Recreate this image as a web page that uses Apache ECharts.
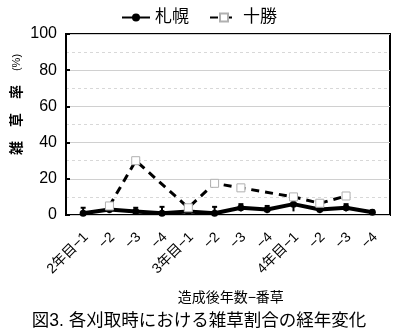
<!DOCTYPE html>
<html><head><meta charset="utf-8">
<script src="https://cdn.jsdelivr.net/npm/echarts@6/dist/echarts.min.js"></script>
<style>html,body{margin:0;padding:0;background:#fff}#c{width:398px;height:332px}</style>
</head><body><div id="c"></div>
<script>
const categories = ['2年目−1','−2','−3','−4','3年目−1','−2','−3','−4','4年目−1','−2','−3','−4'];
const sapporo = [1, 3, 2, 1, 2, 1, 4, 3, 6, 3, 4, 1.5];
const sapporoErr = [3, 2, 2, 3.5, 2, 3.5, 2, 2, 4, 2, 2, 1];
const tokachi = [null, 5, 30, null, 4, 17.5, 15, null, 10, 6.5, 10.5, null];
const yTicks = [0, 20, 40, 60, 80, 100];

const chart = echarts.init(document.getElementById('c'));
const font = '"Liberation Sans","Noto Sans CJK JP",sans-serif';
chart.setOption({
  animation: false,
  textStyle: {fontFamily: font},
  legend: {
    top: 4, left: 'center', itemWidth: 28, itemHeight: 10, itemGap: 20,
    textStyle: {fontSize: 17, color: '#000', fontFamily: font},
    data: ['札幌', '十勝']
  },
  grid: [
    {left: 66, right: 8, top: 34, bottom: 117, show: true, borderColor: '#000', borderWidth: 2, backgroundColor: 'transparent'},
    {left: 70, right: 12.5, top: 34, bottom: 117},
    {left: 73, right: 9.5, top: 34, bottom: 117}
  ],
  xAxis: [
    {gridIndex: 0, type: 'value', min: 0, max: 1, show: false},
    {gridIndex: 1, type: 'category', data: categories, boundaryGap: true, show: false},
    {
      gridIndex: 2, type: 'category', data: categories, boundaryGap: true,
      name: '造成後年数−番草', nameLocation: 'middle', nameGap: 76,
      nameTextStyle: {fontSize: 14, color: '#000', fontFamily: font},
      axisLine: {show: false},
      axisTick: {show: false},
      axisLabel: {rotate: 45, fontSize: 14, color: '#000', margin: 20, interval: 0, fontFamily: font}
    }
  ],
  yAxis: [{
    gridIndex: 0, type: 'value', min: yTicks[0], max: yTicks[yTicks.length - 1], interval: 20,
    axisLine: {show: true, lineStyle: {color: '#000', width: 2}},
    axisTick: {show: true, inside: true, length: 4, lineStyle: {color: '#000', width: 2}},
    axisLabel: {fontSize: 16, color: '#000', margin: 9, fontFamily: font},
    splitLine: {show: true, lineStyle: {color: '#d0d0d0', width: 1}},
    minorTick: {show: false, splitNumber: 2},
    minorSplitLine: {show: true, lineStyle: {color: '#d8d8d8', type: [3, 3], width: 1}}
  }, {
    gridIndex: 1, type: 'value', min: yTicks[0], max: yTicks[yTicks.length - 1], show: false
  }, {
    gridIndex: 2, type: 'value', min: yTicks[0], max: yTicks[yTicks.length - 1], show: false
  }],
  series: [
    {
      name: 'err', type: 'custom', z: 2, xAxisIndex: 1, yAxisIndex: 1,
      data: sapporo.map((v, i) => [i, Math.max(0, v - sapporoErr[i]), v + sapporoErr[i]]),
      renderItem: function (params, api) {
        const lo = api.coord([api.value(0), api.value(1)]);
        const hi = api.coord([api.value(0), api.value(2)]);
        return {type: 'group', children: [
          {type: 'line', shape: {x1: lo[0], y1: lo[1], x2: hi[0], y2: hi[1]}, style: {stroke: '#000', lineWidth: 2}},
          {type: 'line', shape: {x1: hi[0] - 2.5, y1: hi[1], x2: hi[0] + 2.5, y2: hi[1]}, style: {stroke: '#000', lineWidth: 2}}
        ]};
      },
      encode: {x: 0, y: [1, 2]}
    },
    {
      name: '札幌', type: 'line', data: sapporo, z: 3, xAxisIndex: 1, yAxisIndex: 1,
      symbol: 'circle', symbolSize: 7,
      itemStyle: {color: '#000'},
      lineStyle: {color: '#000', width: 4}
    },
    {
      name: '十勝', type: 'line', data: tokachi, connectNulls: true, z: 4, xAxisIndex: 1, yAxisIndex: 1,
      symbol: 'rect', symbolSize: 8,
      itemStyle: {color: '#fff', borderColor: '#b0b0b0', borderWidth: 1},
      lineStyle: {color: '#000', width: 3, type: [8, 6]}
    }
  ],
  graphic: [{
    type: 'text', x: 17, y: 104.5, rotation: Math.PI / 2,
    style: {
      text: '{a|雑　草　率　}{b|(%)}',
      align: 'center', verticalAlign: 'middle',
      rich: {
        a: {fontSize: 14, fontWeight: 'bold', fill: '#000', fontFamily: font},
        b: {fontSize: 11, fill: '#000', fontFamily: font}
      }
    }
  }, {
    type: 'text', left: 'center', top: 312,
    style: {text: '図3. 各刈取時における雑草割合の経年変化', fontSize: 17.5, fill: '#000', fontFamily: font}
  }]
});
</script></body></html>
